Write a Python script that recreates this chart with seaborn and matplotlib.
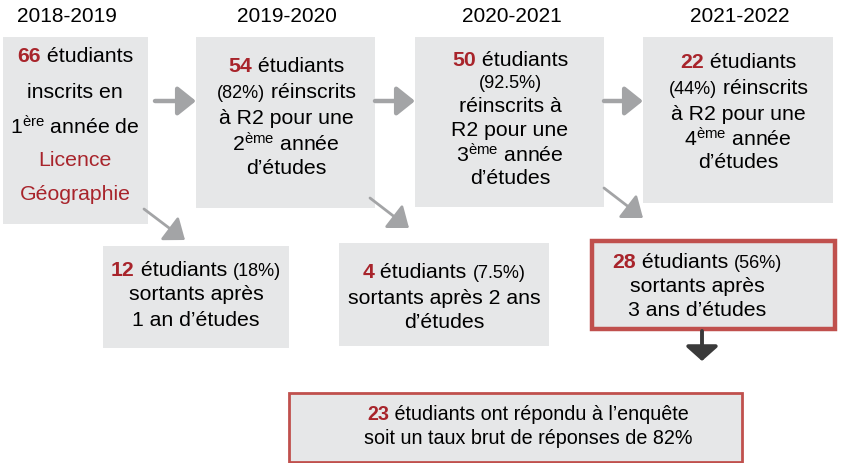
import matplotlib
matplotlib.use("Agg")
import matplotlib.pyplot as plt
import seaborn as sns
from matplotlib.patches import Rectangle
from matplotlib.offsetbox import TextArea, HPacker, AnnotationBbox

sns.set_theme(style="white")
plt.rcParams['font.family'] = ['Liberation Sans', 'DejaVu Sans']
plt.rcParams['mathtext.fontset'] = 'custom'
plt.rcParams['mathtext.rm'] = 'Liberation Sans'
plt.rcParams['mathtext.it'] = 'Liberation Sans'
plt.rcParams['mathtext.bf'] = 'Liberation Sans:bold'

# ---- data ----
years = ["2018-2019", "2019-2020", "2020-2021", "2021-2022"]
enrolled = [66, 54, 50, 22]
enrolled_pct = [None, "82%", "92.5%", "44%"]
leavers = [12, 4, 28]
leavers_pct = ["18%", "7.5%", "56%"]
respondents = 23
response_rate = "82%"

RED = "#A8242B"
BORDER = "#C0504D"
GRAY_BOX = "#E6E7E8"
ARROW = "#A3A4A6"
DARK = "#3A3A3A"
BIG = 15.3
SMALL = 13.0

fig = plt.figure(figsize=(8.43, 4.63), dpi=100)
ax = fig.add_axes([0, 0, 1, 1])
ax.set_xlim(0, 843)
ax.set_ylim(463, 0)
ax.axis("off")


def box(x0, y0, x1, y1, edge=None, lw=0):
    ax.add_patch(Rectangle((x0, y0), x1 - x0, y1 - y0, facecolor=GRAY_BOX,
                           edgecolor=edge if edge else "none", linewidth=lw,
                           zorder=1))


def line(x, y, parts, size=BIG):
    areas = []
    for p in parts:
        if isinstance(p, str):
            p = (p, "black", "normal", size)
        txt, col, w, s = (list(p) + [None] * 4)[:4]
        col = col or "black"
        w = w or "normal"
        s = s or size
        areas.append(TextArea(txt, textprops=dict(color=col, fontweight=w,
                                                   fontsize=s,
                                                   family=['Liberation Sans', 'DejaVu Sans'])))
    pack = HPacker(children=areas, pad=0, sep=0, align="baseline")
    ab = AnnotationBbox(pack, (x, y), xycoords="data", frameon=False,
                        box_alignment=(0.5, 0.5), pad=0, zorder=3)
    ax.add_artist(ab)


def arrow(x0, y0, x1, y1, color=ARROW, lw=3.5, hw=0.5, hl=0.6, ms=20):
    ax.annotate("", xy=(x1, y1), xytext=(x0, y0), xycoords="data",
                arrowprops=dict(arrowstyle=f"-|>,head_length={hl},head_width={hw}",
                                lw=lw, color=color, shrinkA=0, shrinkB=0,
                                mutation_scale=ms), zorder=2)


# year labels
for xc, yr in zip([67, 287, 512, 740], years):
    ax.text(xc, 16, yr, ha="center", va="center", fontsize=15, color="black")

# top boxes
box(3, 37, 148, 224)
box(196, 37, 375, 208)
box(415, 37, 604, 207)
box(643, 37, 833, 203)

# box 1
line(75, 57, [(str(enrolled[0]), RED, "bold"), " étudiants"])
line(75, 92, ["inscrits en"])
line(75, 127, ["1$^{\\rm ère}$ année de"])
line(75, 161, [("Licence", RED)])
line(75, 195, [("Géographie", RED)])

# box 2
line(286, 67, [(str(enrolled[1]), RED, "bold"), " étudiants"])
line(286, 93, [(f"({enrolled_pct[1]})", "black", "normal", SMALL), " réinscrits"])
line(286, 119, ["à R2 pour une"])
line(286, 144, ["2$^{\\rm ème}$ année"])
line(286, 169, ["d’études"])

# box 3
line(510, 61, [(str(enrolled[2]), RED, "bold"), " étudiants"])
line(510, 83, [(f"({enrolled_pct[2]})", "black", "normal", SMALL)])
line(510, 107, ["réinscrits à"])
line(510, 131, ["R2 pour une"])
line(510, 155, ["3$^{\\rm ème}$ année"])
line(510, 179, ["d’études"])

# box 4
line(738, 63, [(str(enrolled[3]), RED, "bold"), " étudiants"])
line(738, 89, [(f"({enrolled_pct[3]})", "black", "normal", SMALL), " réinscrits"])
line(738, 114, ["à R2 pour une"])
line(738, 139, ["4$^{\\rm ème}$ année"])
line(738, 163, ["d’études"])

# horizontal arrows
for x0, x1 in [(155, 196), (375, 415), (604, 643)]:
    arrow(x0, 101, x1, 101, lw=3.2, hw=0.4, hl=0.5, ms=22)

# diagonal arrows
for (x0, y0, x1, y1) in [(144, 209, 185, 240), (370, 198, 409, 228), (604, 188, 643, 218)]:
    arrow(x0, y0, x1, y1, lw=2, hw=0.5, hl=0.65, ms=18)

# leaver boxes
box(103, 246, 289, 348)
box(339, 243, 549, 346)
box(592, 241, 835, 329, edge=BORDER, lw=3.2)

line(196, 270, [(str(leavers[0]), RED, "bold"), " étudiants ",
                (f"({leavers_pct[0]})", "black", "normal", SMALL)])
line(196, 295, ["sortants après"])
line(196, 320, ["1 an d’études"])

line(444, 273, [(str(leavers[1]), RED, "bold"), " étudiants ",
                (f"({leavers_pct[1]})", "black", "normal", SMALL)])
line(444, 298, ["sortants après 2 ans"])
line(444, 322, ["d’études"])

line(697, 262, [(str(leavers[2]), RED, "bold"), " étudiants ",
                (f"({leavers_pct[2]})", "black", "normal", SMALL)])
line(697, 287, ["sortants après"])
line(697, 311, ["3 ans d’études"])

# down arrow
arrow(702, 331, 702, 361, color=DARK, lw=2.8, hw=0.45, hl=0.4, ms=22)

# final box
box(289, 393, 742, 462, edge=BORDER, lw=2)
line(528, 414, [(str(respondents), RED, "bold"), " étudiants ont répondu à l’enquête"], size=14.2)
line(528, 438, [f"soit un taux brut de réponses de {response_rate}"], size=14.2)

fig.savefig("out.png", dpi=100)
